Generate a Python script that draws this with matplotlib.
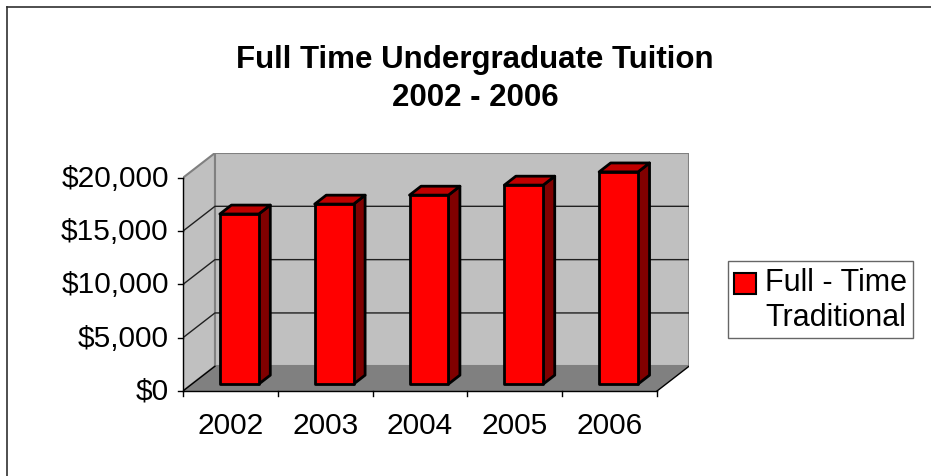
import matplotlib
matplotlib.use("Agg")
import matplotlib.pyplot as plt
from matplotlib.patches import Polygon, Patch, Rectangle
from matplotlib.lines import Line2D
from matplotlib.legend_handler import HandlerPatch

# data
years = ["2002", "2003", "2004", "2005", "2006"]
tuition = [15950, 16880, 17720, 18660, 19900]
yticks = [0, 5000, 10000, 15000, 20000]
ytick_labels = ["$0", "$5,000", "$10,000", "$15,000", "$20,000"]
title = "Full Time Undergraduate Tuition\n2002 - 2006"
series_name = "Full - Time\nTraditional"

plt.rcParams['font.family'] = ['Liberation Sans', 'DejaVu Sans']

# fake 3d depth, in data units
dx = 0.337
dy = 2320.0
ymax = 20000
n = len(years)
bw = 0.41
f0, f1 = 0.28, 0.64

fig = plt.figure(figsize=(9.31, 4.77), dpi=100)
ax = fig.add_axes([183/931, 85/477, (689-183)/931, (392-154)/477])
ax.set_xlim(0, n + dx)
ax.set_ylim(0, ymax + dy)
ax.axis('off')

# walls and floor
ax.add_patch(Polygon([(dx, dy), (n+dx, dy), (n+dx, ymax+dy), (dx, ymax+dy)],
                     closed=True, fc='#C0C0C0', ec='#808080', lw=1.5, zorder=1))
ax.add_patch(Polygon([(0, 0), (dx, dy), (dx, ymax+dy), (0, ymax)],
                     closed=True, fc='#C0C0C0', ec='#808080', lw=1.5, zorder=1))
ax.add_patch(Polygon([(0, 0), (n, 0), (n+dx, dy), (dx, dy)],
                     closed=True, fc='#808080', ec='none', zorder=1))

# gridlines on the walls
for v in yticks[1:-1]:
    ax.plot([0, dx, n+dx], [v, v+dy, v+dy], color='#202020', lw=1.0, zorder=2)
ax.plot([0, dx], [0, dy], color='black', lw=1.0, zorder=2)
ax.plot([n, n+dx], [0, dy], color='black', lw=1.0, zorder=2)

# axes lines and ticks
ax.plot([0, 0], [0, ymax], color='black', lw=1.0, zorder=3, clip_on=False)
ax.plot([0, n], [0, 0], color='black', lw=1.0, zorder=3, clip_on=False)
tk = 0.05
for v, lab in zip(yticks, ytick_labels):
    ax.plot([-tk, 0], [v, v], color='black', lw=1.0, clip_on=False)
    ax.text(-0.15, v, lab, ha='right', va='center', fontsize=21.5)
for i in range(n + 1):
    ax.plot([i, i], [0, -500], color='black', lw=1.0, clip_on=False)
for i, y in enumerate(years):
    ax.text(i + 0.5, -1900, y, ha='center', va='top', fontsize=21.5)

# bars
for i, v in enumerate(tuition):
    x0 = i + 0.5 - bw/2
    x1 = i + 0.5 + bw/2
    a0, b0 = f0*dx, f0*dy
    a1, b1 = f1*dx, f1*dy
    side = [(x1+a0, b0), (x1+a1, b1), (x1+a1, v+b1), (x1+a0, v+b0)]
    top = [(x0+a0, v+b0), (x1+a0, v+b0), (x1+a1, v+b1), (x0+a1, v+b1)]
    front = [(x0+a0, b0), (x1+a0, b0), (x1+a0, v+b0), (x0+a0, v+b0)]
    ax.add_patch(Polygon(side, closed=True, fc='#800000', ec='black', lw=2, zorder=4, joinstyle='round'))
    ax.add_patch(Polygon(top, closed=True, fc='#C00000', ec='black', lw=2, zorder=4, joinstyle='round'))
    ax.add_patch(Polygon(front, closed=True, fc='#FF0000', ec='black', lw=2, zorder=5, joinstyle='round'))

fig.text(475/931, 1 - 45/477, title, ha='center', va='top', fontsize=22.5,
         fontweight='bold', linespacing=1.35)


# legend key sits next to the first line of the label
def raised_box(legend, orig_handle, xdescent, ydescent, width, height, fontsize):
    return Rectangle((-xdescent, -ydescent + 12), width, height)


leg = fig.legend(handles=[Patch(fc='#FF0000', ec='black', lw=1.5)], labels=[series_name],
                 loc='upper left', bbox_to_anchor=(728/931, 1 - 262/477),
                 fontsize=22, frameon=True, fancybox=False, edgecolor='#404040',
                 borderpad=0.2, handlelength=0.7, handleheight=0.7, handletextpad=0.3,
                 labelspacing=0.2, borderaxespad=0,
                 handler_map={Patch: HandlerPatch(patch_func=raised_box)})
leg.get_frame().set_linewidth(1.0)
for t in leg.get_texts():
    t.set_multialignment('center')

# outer frame
fig.add_artist(Line2D([7/931, 7/931], [0, 1 - 8/477], transform=fig.transFigure, color='#303030', lw=1.2))
fig.add_artist(Line2D([7/931, 1], [1 - 8/477, 1 - 8/477], transform=fig.transFigure, color='#303030', lw=1.2))

fig.savefig("out.png", dpi=100)
